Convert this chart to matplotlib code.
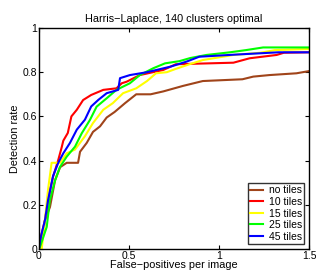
import numpy as np
import matplotlib
matplotlib.use("Agg")
import matplotlib.pyplot as plt

plt.rcParams['font.family'] = ['Liberation Sans', 'DejaVu Sans']

# ROC curves (false positives per image, detection rate)
x_none = [0, 0.02, 0.033, 0.061, 0.089, 0.117, 0.154, 0.217, 0.228, 0.265, 0.3, 0.339, 0.376, 0.42,
          0.478, 0.54, 0.62, 0.69, 0.8, 0.91, 1.13, 1.19, 1.28, 1.43, 1.5]
y_none = [0, 0.05, 0.13, 0.19, 0.31, 0.37, 0.39, 0.39, 0.44, 0.48, 0.53, 0.555, 0.595, 0.62,
          0.66, 0.70, 0.70, 0.713, 0.738, 0.76, 0.768, 0.78, 0.787, 0.795, 0.805]

x_10 = [0, 0.006, 0.033, 0.05, 0.078, 0.106, 0.126, 0.135, 0.16, 0.18, 0.21, 0.245, 0.29, 0.357,
        0.43, 0.46, 0.487, 0.56, 0.69, 0.76, 1.08, 1.17, 1.32, 1.36, 1.5]
y_10 = [0, 0.04, 0.13, 0.22, 0.327, 0.40, 0.46, 0.49, 0.525, 0.60, 0.63, 0.674, 0.697, 0.72,
        0.727, 0.75, 0.757, 0.787, 0.81, 0.836, 0.843, 0.863, 0.878, 0.888, 0.89]

x_15 = [0, 0.015, 0.033, 0.05, 0.07, 0.117, 0.154, 0.2, 0.255, 0.3, 0.357, 0.41, 0.467, 0.54,
        0.6, 0.65, 0.71, 0.76, 0.84, 0.91, 1.08, 1.23, 1.31, 1.5]
y_15 = [0, 0.0, 0.13, 0.267, 0.39, 0.39, 0.433, 0.45, 0.51, 0.57, 0.63, 0.66, 0.705, 0.727,
        0.76, 0.795, 0.80, 0.815, 0.837, 0.855, 0.878, 0.888, 0.90, 0.905]

x_25 = [0, 0.006, 0.043, 0.06, 0.089, 0.117, 0.154, 0.2, 0.237, 0.283, 0.32, 0.376, 0.43, 0.505,
        0.56, 0.635, 0.7, 0.78, 0.84, 0.93, 1.06, 1.15, 1.245, 1.5]
y_25 = [0, 0.01, 0.10, 0.22, 0.31, 0.372, 0.418, 0.463, 0.523, 0.584, 0.644, 0.682, 0.72, 0.75,
        0.787, 0.818, 0.84, 0.85, 0.864, 0.878, 0.89, 0.90, 0.912, 0.912]

x_45 = [0, 0.006, 0.033, 0.05, 0.078, 0.107, 0.135, 0.172, 0.21, 0.255, 0.29, 0.33, 0.376, 0.44,
        0.45, 0.505, 0.6, 0.73, 0.82, 0.89, 1.1, 1.33, 1.5]
y_45 = [0, 0.04, 0.13, 0.22, 0.33, 0.39, 0.433, 0.48, 0.54, 0.585, 0.645, 0.675, 0.705, 0.72,
        0.773, 0.787, 0.80, 0.825, 0.848, 0.87, 0.88, 0.89, 0.89]

labels = ["no tiles", "10 tiles", "15 tiles", "25 tiles", "45 tiles"]
colors = ["#a0441a", "#ff0000", "#ffff00", "#00ff00", "#0000ff"]

fig = plt.figure(figsize=(3.16, 2.71), dpi=100)
ax = fig.add_axes([0.1234, 0.0812, 0.8546, 0.8155])

curves = [(x_none, y_none), (x_10, y_10), (x_15, y_15), (x_25, y_25), (x_45, y_45)]
for (xs, ys), lab, c in zip(curves, labels, colors):
    ax.plot(xs, ys, color=c, lw=1.5, label=lab)

ax.set_xlim(0, 1.5)
ax.set_ylim(0, 1)
ax.set_xticks([0, 0.5, 1, 1.5])
ax.set_xticklabels(["0", "0.5", "1", "1.5"])
ax.set_yticks([0, 0.2, 0.4, 0.6, 0.8, 1])
ax.set_yticklabels(["0", "0.2", "0.4", "0.6", "0.8", "1"])
ax.tick_params(direction='in', top=True, right=True, labelsize=7.5, length=3, pad=1.5)
for s in ax.spines.values():
    s.set_linewidth(1.0)

ax.set_title("Harris\u2212Laplace, 140 clusters optimal", fontsize=7.8, pad=4)
ax.set_xlabel("False\u2212positives per image", fontsize=7.8, labelpad=-0.5)
ax.set_ylabel("Detection rate", fontsize=7.8, labelpad=2)

leg = ax.legend(loc='lower right', fontsize=7.5, frameon=True, fancybox=False,
                edgecolor='black', borderpad=0.2, labelspacing=0.15, handlelength=1.3,
                handletextpad=0.5, borderaxespad=0.5)
leg.get_frame().set_linewidth(1.0)

fig.savefig("out.png", dpi=100)
